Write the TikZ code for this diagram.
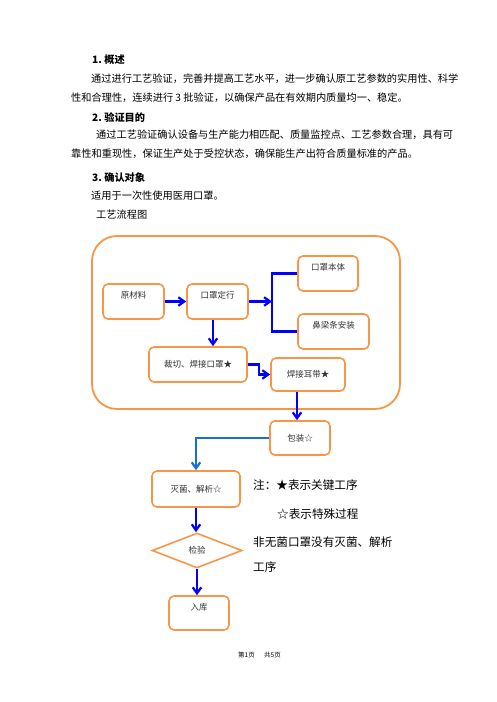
\documentclass[tikz,border=0pt]{standalone}
\usepackage{fontspec}
\setmainfont{Noto Sans CJK SC}
\usetikzlibrary{arrows.meta, positioning, shapes.geometric}
\definecolor{boxorange}{RGB}{247,150,70}
\definecolor{flowblue}{RGB}{0,0,255}
\definecolor{packblue}{RGB}{24,112,208}

\begin{document}
\begin{tikzpicture}[x=1pt, y=-1pt,
	bodytext/.style={anchor=base west, inner sep=0pt, font=\fontsize{10.2}{12}\selectfont},
	notetext/.style={anchor=base west, inner sep=0pt, font=\fontsize{11.6}{14}\selectfont},
	procbox/.style={draw=boxorange, line width=1.6pt, rounded corners=5pt, inner sep=0pt, text=black!80, font=\fontsize{8.5}{10}\selectfont},
	upper/.style={text height=6pt, text depth=12pt},
	decision/.style={diamond, draw=boxorange, line width=1.6pt, aspect=2.57, inner sep=0pt, text=black!80, font=\fontsize{8.5}{10}\selectfont},
	flow/.style={draw=flowblue, line width=2.2pt, -{Straight Barb[length=6pt,width=8.5pt]}},
	flowline/.style={draw=flowblue, line width=2.2pt},
	packflow/.style={draw=packblue, line width=2.2pt, -{Straight Barb[length=6pt,width=8.5pt]}}
]
	\useasboundingbox (0,0) rectangle (496,702);
	% text above the chart
	\node[bodytext] (head1) at (92,63) {\bfseries 1.\ 概述};
	\node[bodytext] (para1a) at (91,82) {通过进行工艺验证，完善并提高工艺水平，进一步确认原工艺参数的实用性、科学};
	\node[bodytext] (para1b) at (71,101) {性和合理性，连续进行 3 批验证，以确保产品在有效期内质量均一、稳定。};
	\node[bodytext] (head2) at (92,121) {\bfseries 2.\ 验证目的};
	\node[bodytext] (para2a) at (96,138) {通过工艺验证确认设备与生产能力相匹配、质量监控点、工艺参数合理，具有可};
	\node[bodytext] (para2b) at (71,157) {靠性和重现性，保证生产处于受控状态，确保能生产出符合质量标准的产品。};
	\node[bodytext] (head3) at (92,181) {\bfseries 3.\ 确认对象};
	\node[bodytext] (para3) at (91,199) {适用于一次性使用医用口罩。};
	\node[bodytext] (charttitle) at (96,218) {工艺流程图};
	% frame round the first steps
	\draw[draw=boxorange, line width=1.8pt, rounded corners=25pt] (92,236) rectangle (400,409);
	% steps
	\node[procbox, upper, minimum width=61pt, minimum height=35pt] (yl) at (133.5,301.5) {原材料};
	\node[procbox, upper, minimum width=61pt, minimum height=35pt] (dx) at (217.5,301.5) {口罩定行};
	\node[procbox, upper, minimum width=60pt, minimum height=35pt] (bt) at (328,273.5) {口罩本体};
	\node[procbox, upper, minimum width=71pt, minimum height=35pt] (bl) at (333.5,331.5) {鼻梁条安装};
	\node[procbox, minimum width=98pt, minimum height=35pt] (cq) at (198,364.5) {裁切、焊接口罩★};
	\node[procbox, minimum width=74pt, minimum height=33pt] (ed) at (308,374.5) {焊接耳带★};
	\node[procbox, minimum width=60pt, minimum height=34pt] (bz) at (300,438) {包装☆};
	\node[procbox, minimum width=88pt, minimum height=36pt] (mj) at (196,489) {灭菌、解析☆};
	\node[decision, minimum width=90pt, minimum height=35pt] (jy) at (197,550.5) {检验};
	\node[procbox, upper, minimum width=60pt, minimum height=34pt] (rk) at (199,613) {入库};
	\coordinate (fork) at (272,301.5);
	% connectors
	\draw[flow] (yl) -- (dx);
	\draw[flow] (dx) -- (fork);
	\draw[flowline] (bt.west) -| (fork) |- (bl.west);
	\draw[flow] ([xshift=-4.5pt]dx.south) -- ([xshift=-4.5pt]dx.south |- cq.north);
	\draw[flow] (cq.east) -- ++(11,0) |- (ed.west);
	\draw[flow] ([xshift=-11pt]ed.south) -- ([xshift=-11pt]ed.south |- bz.north);
	\draw[packflow] (bz.west) -| (mj.north);
	\draw[flow] (mj.south) -- (mj.south |- jy.north);
	\draw[flow] (jy.south) -- (jy.south |- rk.north);
	% note
	\node[notetext] (note1) at (253,489.4) {注：★表示关键工序};
	\node[notetext] (note2) at (277,518.4) {☆表示特殊过程};
	\node[notetext] (note3) at (253,546.4) {非无菌口罩没有灭菌、解析};
	\node[notetext] (note4) at (253,571.4) {工序};
	% page footer
	\node[anchor=base west, inner sep=0pt, font=\fontsize{6.5}{8}\selectfont] (pagea) at (238,657.5) {第1页};
	\node[anchor=base west, inner sep=0pt, font=\fontsize{6.5}{8}\selectfont] (pageb) at (264,657.5) {共5页};
\end{tikzpicture}
\end{document}
